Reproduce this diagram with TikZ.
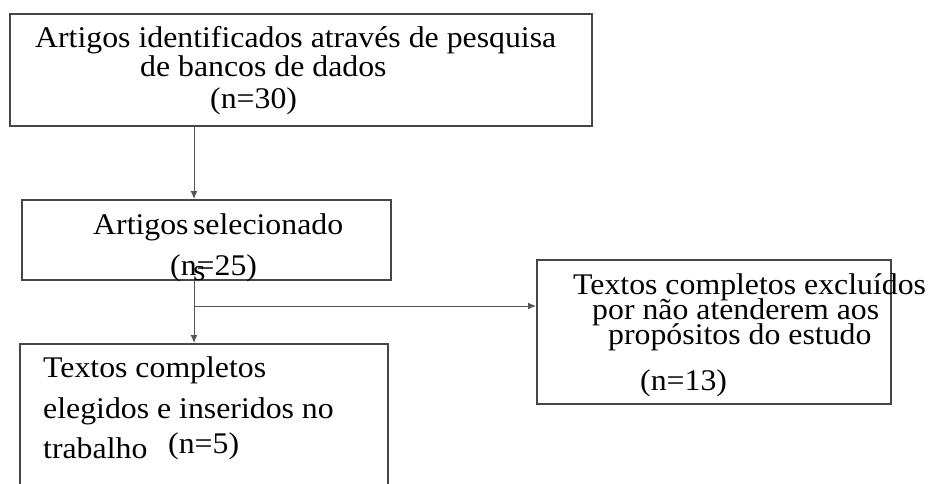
\documentclass[tikz,border=0pt]{standalone}
\usepackage{fontspec}
\setmainfont{Liberation Serif}[FakeStretch=1.06]
\usetikzlibrary{arrows.meta, positioning, calc}
\definecolor{boxDraw}{RGB}{70, 70, 70}
\definecolor{lineColor}{RGB}{85, 85, 85}
\tikzset{
    font=\fontsize{30}{34}\selectfont,
    % --- caixas do fluxo ---
    stageBox/.style={
        draw=boxDraw, line width=2pt, fill=none,
        inner sep=0pt, anchor=north west
    },
    % --- texto dentro das caixas ---
    boxText/.style={
        inner sep=0pt, anchor=base west, text=black
    },
    % --- conectores ---
    connLine/.style={
        draw=lineColor, line width=1pt
    },
    conn/.style={
        connLine,
        -{Latex[length=8pt, width=7pt]}
    }
}

\begin{document}
\begin{tikzpicture}[x=1pt, y=-1pt]

	\useasboundingbox (0,0) rectangle (928,484);
	\clip (0,0) rectangle (928,484);

	% =========================================
	% 1. Caixas
	% =========================================

	\node[stageBox, minimum width=582pt, minimum height=112pt] (ident) at (9,13) {};
	\node[stageBox, minimum width=369pt, minimum height=80pt] (select) at (21,199) {};
	\node[stageBox, minimum width=368pt, minimum height=190pt] (final) at (19,343) {};
	\node[stageBox, minimum width=354pt, minimum height=144pt] (excl) at (536,259) {};

	% =========================================
	% 2. Textos
	% =========================================

	% identificados
	\node[boxText] (identA) at (35,48) {Artigos identificados através de pesquisa};
	\node[boxText] (identB) at (140,77) {de bancos de dados};
	\node[boxText] (identN) at (210,109) {(n=30)};

	% selecionados
	\node[boxText] (selectA) at (93,234) {Artigos\hspace{0.15em}selecionado};
	\node[boxText] (selectN) at (170,275) {(n=25)};
	\node[boxText] (selectS) at (193,280) {s};

	% incluidos
	\node[boxText] (finalA) at (43,377) {Textos completos};
	\node[boxText] (finalB) at (43,418) {elegidos e inseridos no};
	\node[boxText] (finalC) at (43,458) {trabalho};
	\node[boxText] (finalN) at (168,453) {(n=5)};

	% excluidos
	\node[boxText] (exclA) at (573,294) {Textos completos excluídos};
	\node[boxText] (exclB) at (592,319) {por não atenderem aos};
	\node[boxText] (exclC) at (608,344) {propósitos do estudo};
	\node[boxText] (exclN) at (640,390) {(n=13)};

	% =========================================
	% 3. Conectores
	% =========================================

	\coordinate (split) at (194,306);

	\draw[conn] (ident.south -| split) -- (select.north -| split);
	\draw[connLine] (select.south -| split) -- (split);
	\draw[conn] (split) -- (final.north -| split);
	\draw[conn] (split) -- (split -| excl.west);

\end{tikzpicture}
\end{document}
